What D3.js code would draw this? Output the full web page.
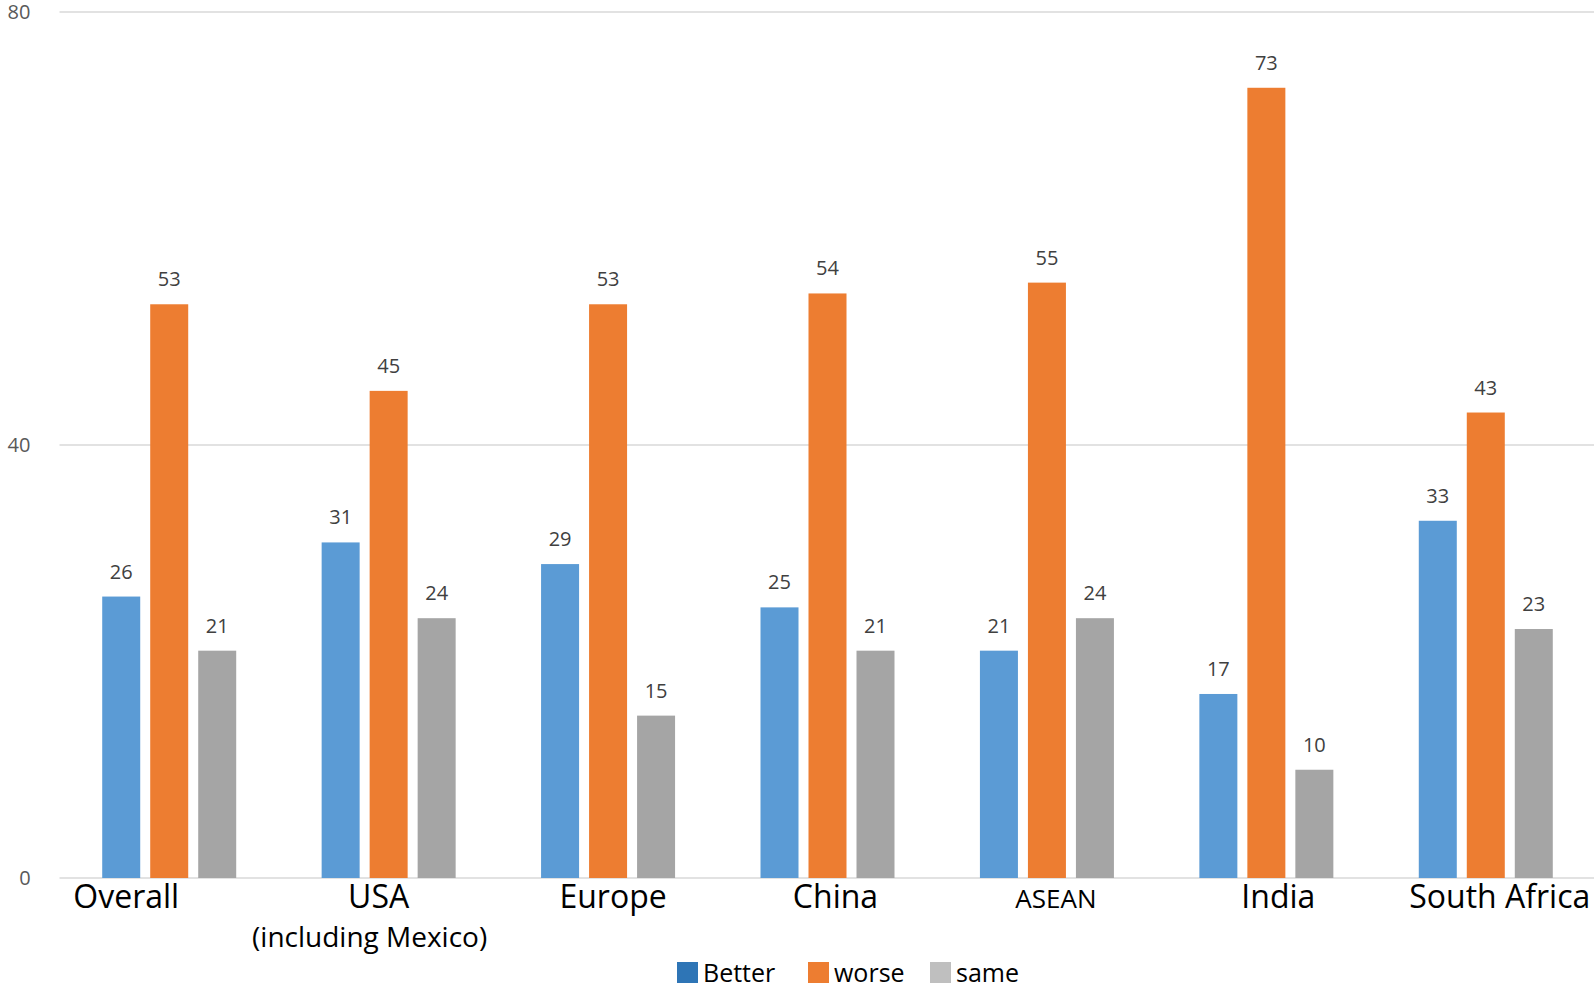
<!DOCTYPE html>
<html>
<head>
<meta charset="utf-8">
<script src="https://cdn.jsdelivr.net/npm/d3@7/dist/d3.min.js"></script>
<style>
  html, body { margin: 0; padding: 0; background: #fff; }
  svg { display: block; font-family: "Open Sans", "Noto Sans", sans-serif; }
</style>
</head>
<body>
<svg id="chart" width="1596" height="985"></svg>
<script>
// Survey responses by region (percent)
const categories = ["Overall", "USA", "Europe", "China", "ASEAN", "India", "South Africa"];
const subLabels  = ["", "(including Mexico)", "", "", "", "", ""];
const seriesNames = ["Better", "worse", "same"];
const better = [26, 31, 29, 25, 21, 17, 33];
const worse  = [53, 45, 53, 54, 55, 73, 43];
const same   = [21, 24, 15, 21, 24, 10, 23];
const yTicks = [0, 40, 80];

const barColors    = ["#5B9BD5", "#ED7D31", "#A5A5A5"];
const legendColors = ["#2E75B6", "#ED7D31", "#BFBFBF"];
// horizontal nudges for the category labels (px)
const labelShift = [-43, -10, 5, 8, 9, 12, 14];
const subShift   = [0, -19, 0, 0, 0, 0, 0];

const svg = d3.select("#chart");
const plotLeft = 59.5, plotRight = 1595.5, plotTop = 12, plotBottom = 878;

const x = d3.scaleBand().domain(categories).range([plotLeft, plotRight]).paddingInner(0).paddingOuter(0);
const bw = 38, gap = 10;
const groupW = 3 * bw + 2 * gap;
const xs = d3.scaleBand().domain(seriesNames).range([0, groupW]).paddingInner(gap / (bw + gap)).paddingOuter(0);
const y = d3.scaleLinear().domain([0, 80]).range([plotBottom, plotTop]);

// Gridlines
svg.append("g").selectAll("line").data(yTicks).join("line")
  .attr("x1", plotLeft).attr("x2", 1594)
  .attr("y1", d => y(d)).attr("y2", d => y(d))
  .attr("stroke", "#D9D9D9").attr("stroke-width", 1.5);

// Y tick labels
svg.append("g").selectAll("text").data(yTicks).join("text")
  .attr("x", d => d === 0 ? 25 : 19).attr("y", d => y(d) + 7)
  .attr("text-anchor", "middle")
  .attr("font-size", 20).attr("fill", "#595959")
  .text(d => d);

const rows = categories.map((c, i) => ({ cat: c, vals: [better[i], worse[i], same[i]] }));

const groups = svg.append("g").selectAll("g").data(rows).join("g")
  .attr("transform", d => `translate(${x(d.cat) + (x.bandwidth() - groupW) / 2},0)`);

groups.selectAll("rect").data(d => d.vals.map((v, j) => ({ v, s: seriesNames[j], j }))).join("rect")
  .attr("x", d => xs(d.s)).attr("width", xs.bandwidth())
  .attr("y", d => y(d.v)).attr("height", d => y(0) - y(d.v))
  .attr("fill", d => barColors[d.j]);

groups.selectAll("text").data(d => d.vals.map((v, j) => ({ v, s: seriesNames[j] }))).join("text")
  .attr("x", d => xs(d.s) + xs.bandwidth() / 2)
  .attr("y", d => y(d.v) - 18)
  .attr("text-anchor", "middle")
  .attr("font-size", 20).attr("fill", "#404040")
  .text(d => d.v);

// Category labels
const catG = svg.append("g");
catG.selectAll("text.cat").data(categories).join("text")
  .attr("class", "cat")
  .attr("x", (d, i) => x(d) + x.bandwidth() / 2 + labelShift[i])
  .attr("y", 908)
  .attr("text-anchor", "middle")
  .attr("font-size", d => d === "ASEAN" ? 26 : 32)
  .attr("fill", "#000")
  .text(d => d);
catG.selectAll("text.sub").data(categories.map((c, i) => ({ c, s: subLabels[i], i })).filter(d => d.s)).join("text")
  .attr("class", "sub")
  .attr("x", d => x(d.c) + x.bandwidth() / 2 + subShift[d.i])
  .attr("y", 947)
  .attr("text-anchor", "middle")
  .attr("font-size", 28).attr("fill", "#000")
  .text(d => d.s);

// Legend
const legendX = [677, 808, 930];
const lg = svg.append("g").selectAll("g").data(seriesNames).join("g")
  .attr("transform", (d, i) => `translate(${legendX[i]},962)`);
lg.append("rect").attr("width", 21).attr("height", 21).attr("fill", (d, i) => legendColors[i]);
lg.append("text").attr("x", 26).attr("y", 20)
  .attr("font-size", 25).attr("fill", "#000")
  .text(d => d);
</script>
</body>
</html>
